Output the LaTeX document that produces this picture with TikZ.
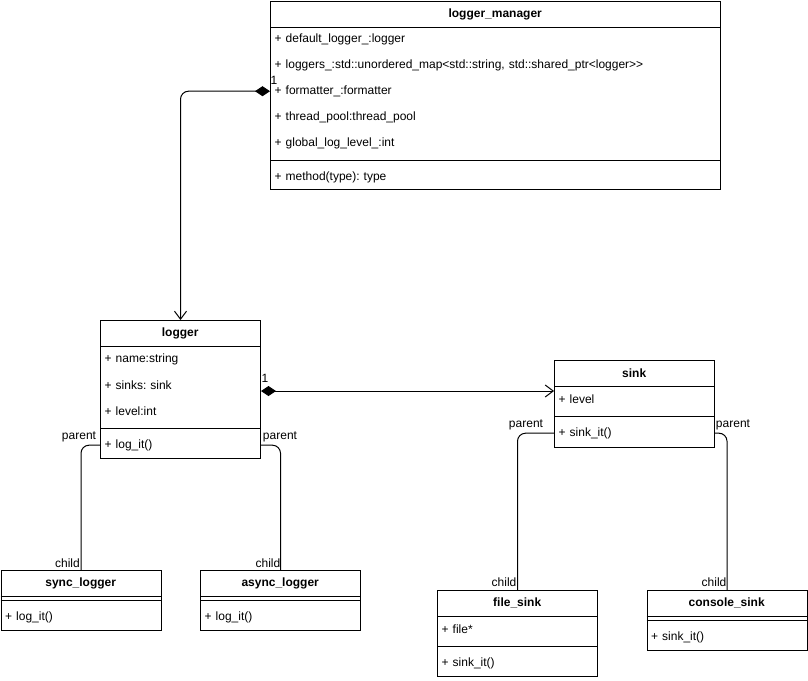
\documentclass[tikz,border=0pt]{standalone}
\usepackage{fontspec}
\setmainfont{Liberation Sans}
\usetikzlibrary{arrows.meta}
\frenchspacing
\begin{document}
\frenchspacing
\begin{tikzpicture}[x=1pt,y=-1pt,
  box/.style={draw, line width=1pt, rectangle, anchor=north west, inner sep=0pt},
  hdr/.style={anchor=north west, inner xsep=0pt, inner ysep=0pt, minimum height=26pt, align=center, font=\bfseries\fontsize{12}{14}\selectfont},
  row/.style={anchor=north west, inner xsep=4.5pt, inner ysep=0pt, minimum height=26pt, align=left, font=\fontsize{12}{14}\selectfont},
  w160/.style={minimum width=160pt, text width=151pt},
  w450/.style={minimum width=450pt, text width=441pt},
  hw160/.style={minimum width=160pt, text width=160pt},
  hw450/.style={minimum width=450pt, text width=450pt},
  ln/.style={line width=1pt},
  conn/.style={line width=1pt, rounded corners=8pt},
  lbl/.style={inner sep=0pt, font=\fontsize{12}{14}\selectfont},
  comp/.style={{Diamond[length=15pt,width=10pt]}-{Straight Barb[length=8pt,width=12pt]}}
]
\useasboundingbox[fill=white] (0,0) rectangle (808,680);

% logger_manager
\node[box, minimum width=450pt, minimum height=188pt] (lm) at (270,1) {};
\node[hdr, hw450] (lmh) at (270,1) {logger\_manager};
\node[row, w450] (lm1) at (270,26) {+ default\_logger\_:logger};
\node[row, w450] (lm2) at (270,52) {+ loggers\_:std::unordered\_map<std::string, std::shared\_ptr<logger>{}>};
\node[row, w450] (lm3) at (270,78) {+ formatter\_:formatter};
\node[row, w450] (lm4) at (270,104) {+ thread\_pool:thread\_pool};
\node[row, w450] (lm5) at (270,130) {+ global\_log\_level\_:int};
\node[row, w450] (lm6) at (270,164) {+ method(type): type};
\draw[ln] (lmh.south west) -- (lmh.south east);
\draw[ln] ([yshift=-4pt]lm5.south west) -- ([yshift=-4pt]lm5.south east);

% logger
\node[box, minimum width=160pt, minimum height=138pt] (lg) at (100,320) {};
\node[hdr, hw160] (lgh) at (100,320) {logger};
\node[row, w160] (lg1) at (100,346) {+ name:string};
\node[row, w160] (lg2) at (100,372) {+ sinks: sink};
\node[row, w160] (lg3) at (100,398) {+ level:int};
\node[row, w160] (lg4) at (100,432) {+ log\_it()};
\draw[ln] (lgh.south west) -- (lgh.south east);
\draw[ln] ([yshift=-4pt]lg3.south west) -- ([yshift=-4pt]lg3.south east);

% sink
\node[box, minimum width=160pt, minimum height=87pt] (sk) at (554,360) {};
\node[hdr, hw160] (skh) at (554,360) {sink};
\node[row, w160] (sk1) at (554,386) {+ level};
\node[row, w160] (sk2) at (554,420) {+ sink\_it()};
\draw[ln] (skh.south west) -- (skh.south east);
\draw[ln] ([yshift=-4pt]sk1.south west) -- ([yshift=-4pt]sk1.south east);

% sync_logger
\node[box, minimum width=160pt, minimum height=60pt] (sy) at (0.5,570) {};
\node[hdr, hw160] (syh) at (0.5,570) {sync\_logger};
\node[row, w160] (sy1) at (0.5,604) {+ log\_it()};
\draw[ln] (syh.south west) -- (syh.south east);
\draw[ln] ([yshift=-4pt]syh.south west) -- ([yshift=-4pt]syh.south east);

% async_logger
\node[box, minimum width=160pt, minimum height=60pt] (as) at (200,570) {};
\node[hdr, hw160] (ash) at (200,570) {async\_logger};
\node[row, w160] (as1) at (200,604) {+ log\_it()};
\draw[ln] (ash.south west) -- (ash.south east);
\draw[ln] ([yshift=-4pt]ash.south west) -- ([yshift=-4pt]ash.south east);

% file_sink
\node[box, minimum width=160pt, minimum height=86pt] (fs) at (437,590) {};
\node[hdr, hw160] (fsh) at (437,590) {file\_sink};
\node[row, w160] (fs1) at (437,616) {+ file*};
\node[row, w160] (fs2) at (437,650) {+ sink\_it()};
\draw[ln] (fsh.south west) -- (fsh.south east);
\draw[ln] ([yshift=-4pt]fs1.south west) -- ([yshift=-4pt]fs1.south east);

% console_sink
\node[box, minimum width=160pt, minimum height=60pt] (cs) at (646.5,590) {};
\node[hdr, hw160] (csh) at (646.5,590) {console\_sink};
\node[row, w160] (cs1) at (646.5,624) {+ sink\_it()};
\draw[ln] (csh.south west) -- (csh.south east);
\draw[ln] ([yshift=-4pt]csh.south west) -- ([yshift=-4pt]csh.south east);

% compositions
\draw[conn, comp] (lm3.west) -| (lg.north);
\node[lbl] (m1) at (274,80.5) {1};
\draw[conn, comp] ([yshift=-71pt]lg.north east) -- ([yshift=-31pt]sk.north west);
\node[lbl] (m2) at (265,378) {1};

% generalizations
\draw[conn] (lg4.west) -| (sy.north);
\draw[conn] (lg4.east) -| (as.north);
\draw[conn] (sk2.west) -| (fs.north);
\draw[conn] (sk2.east) -| (cs.north);

\node[lbl] (p1) at (79,437) {parent};
\node[lbl] (p2) at (280,437) {parent};
\node[lbl] (p3) at (526,425) {parent};
\node[lbl] (p4) at (733,425) {parent};
\node[lbl] (c1) at (67.5,563) {child};
\node[lbl] (c2) at (268,563) {child};
\node[lbl] (c3) at (504,582) {child};
\node[lbl] (c4) at (714,582) {child};
\end{tikzpicture}
\end{document}
